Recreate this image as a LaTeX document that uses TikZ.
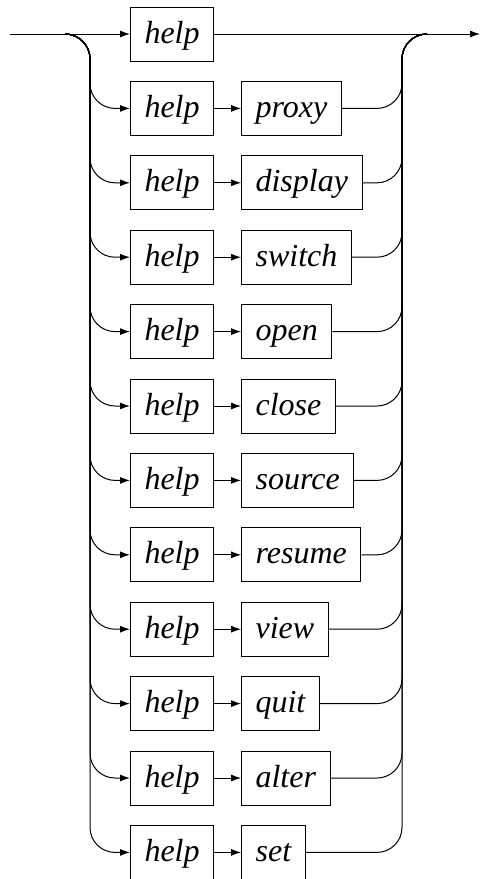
\documentclass[tikz,border=0pt]{standalone}
\usepackage{fontspec}
\setmainfont{Liberation Serif}
\usetikzlibrary{shapes, arrows.meta, positioning}

\begin{document}
\begin{tikzpicture}[x=1pt, y=-1pt, node distance=27pt, every node/.style={font=\fontsize{32}{38}\selectfont\itshape}, >={Latex[length=10pt, width=7pt]}]
  % Define styles
  \tikzstyle{word} = [rectangle, draw=black, line width=1pt, minimum height=54pt, text height=22pt, text depth=4pt, inner xsep=14pt, text centered]
  \tikzstyle{link} = [->, line width=1pt]
  \tikzstyle{rail} = [line width=1pt, rounded corners=25pt]
  \useasboundingbox (0,0) rectangle (481,879);

  % Nodes
  \coordinate (start) at (10,34);
  \coordinate (split) at (65,34);
  \coordinate (merge) at (402,34);
  \coordinate (join) at (427,34);
  \coordinate (finish) at (480,34);
  \node[word, anchor=west] (help-1) at (130,34) {help};
  \foreach \kw [count=\i from 2] in {proxy, display, switch, open, close, source, resume, view, quit, alter, set} {
    \node[word, anchor=west] (help-\i) at (130, 34+74.4*\i-74.4) {help};
    \node[word, right=of help-\i] (kw-\i) {\kw};
  }

  % Arrows
  \draw[link] (start) -- (help-1);
  \draw[link] (help-1) -- (finish);
  \foreach \i in {2,...,12} {
    \draw[rail, ->] (split) -| ([xshift=-40pt]help-\i.west) -- (help-\i.west);
    \draw[link] (help-\i) -- (kw-\i);
    \draw[rail] (kw-\i.east) -| (merge) -- (join);
  }
\end{tikzpicture}
\end{document}
